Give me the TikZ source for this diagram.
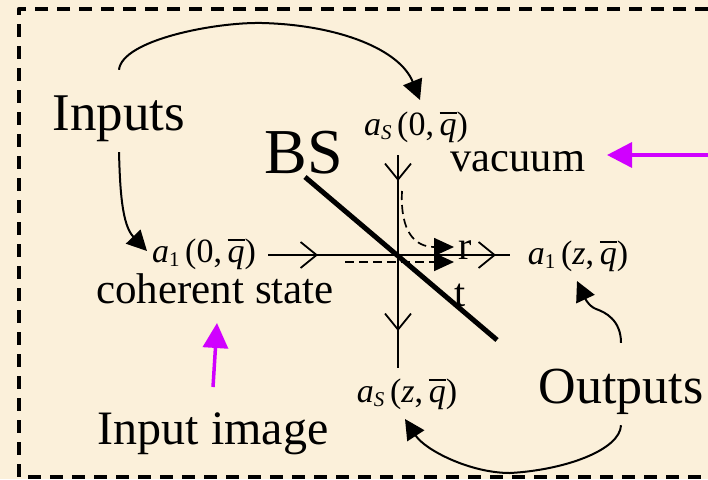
\documentclass[tikz,border=0pt]{standalone}
\usepackage{fontspec}
\setmainfont{Liberation Serif}
\usetikzlibrary{arrows.meta, calc, positioning}
\definecolor{paper}{HTML}{FBF0DA}
\definecolor{imgarrow}{HTML}{D000FF}
\newcommand\lbl[1]{\fontsize{#1}{#1}\selectfont}
\newcommand\barq{\leavevmode\rlap{\raisebox{0.62em}{\rule{0.5em}{0.05em}}}\textit{q}}
\newcommand\amp[2]{\textit{a}\raisebox{-0.3ex}{\lbl{21}#1}\,(#2,\,\barq)}
\tikzset{
  every picture/.style={x=1pt, y=-1pt, line cap=butt, line join=round},
  word/.style={inner sep=0pt, text=black},
  % tall box, so that the callouts leave it above and below the word
  group/.style={word, text height=50pt, text depth=12pt, minimum height=82pt},
  ampl/.style={word, font=\lbl{34}},
  beam/.style={line width=2pt},
  barb/.style={-{Straight Barb[length=16pt, width=26pt, line width=1.8pt]}},
  path/.style={line width=1.7pt, dash pattern=on 9pt off 5pt, -{Triangle[length=20pt, width=18pt]}},
  callout/.style={line width=2pt, -{Triangle[length=20pt, width=20pt]}},
  imgmark/.style={imgarrow, line width=3.5pt, -{Triangle[length=25pt, width=25pt]}},
}
\begin{document}
\begin{tikzpicture}
  \fill[paper] (0,0) rectangle (708,479);
  \useasboundingbox (0,0) rectangle (708,479);
  % dashed frame, open on the right
  \draw[line width=4.5pt, dash pattern=on 13pt off 9pt] (708,9) -- (19,9) -- (19,477) -- (708,477);
  % labels
  \node[group, font=\lbl{53}] (inputs) at (119,111) {Inputs};
  \node[word, font=\lbl{64}] (bs) at (304,153) {BS};
  \node[word, font=\lbl{42.5}] (vacuum) at (518,162) {vacuum};
  \node[word, font=\lbl{43}] (coherent) at (215,289) {coherent state};
  \node[word, font=\lbl{48}] (image) at (213,434) {Input image};
  \node[group, font=\lbl{52}] (outputs) at (621,384) {Outputs};
  \node[word, font=\lbl{40}] (rlabel) at (465,250) {r};
  \node[word, font=\lbl{40}] (tlabel) at (460,295) {t};
  \node[ampl] (asin) at (416,127) {\amp{\textit{S}}{0}};
  \node[ampl] (ain) at (204,254) {\amp{1}{0}};
  \node[ampl] (aout) at (578,256) {\amp{1}{\textit{z}}};
  \node[ampl] (asout) at (407,394) {\amp{\textit{S}}{\textit{z}}};
  % beams
  \coordinate (ntop) at (398,155);
  \coordinate (nbot) at (398,368);
  \coordinate (wleft) at (268,255);
  \coordinate (eright) at (510,255);
  \draw[beam] (ntop) -- (nbot);
  \draw[beam] (wleft) -- (eright);
  \draw[barb] (398,160) -- (398,181);
  \draw[barb] (398,310) -- (398,331);
  \draw[barb] (300,255) -- (318,255);
  \draw[barb] (478,255) -- (496,255);
  % beam splitter
  \coordinate (bsa) at (305,177);
  \coordinate (bsb) at (497,340);
  \draw[line width=5pt] (bsa) -- (bsb);
  % reflected and transmitted paths
  \coordinate (refl) at (402,191);
  \coordinate (reflend) at (454,247);
  \coordinate (trans) at (345,262);
  \coordinate (transend) at (454,262);
  \draw[path] (refl) .. controls (400,232) and (415,247) .. (reflend);
  \draw[path] (trans) -- (transend);
  % callouts
  \draw[callout] (inputs.north) .. controls (122,40) and (215,22) .. (262,23) .. controls (340,25) and (400,50) .. (420,100);
  \draw[callout] (inputs.south) .. controls (120,190) and (122,225) .. (147,251);
  \draw[callout] (outputs.north) .. controls (621,320) and (605,312) .. (596,309) .. controls (588,306) and (584,296) .. (577,281);
  \draw[callout] (outputs.south) .. controls (620,450) and (565,470) .. (510,473) .. controls (470,473) and (425,450) .. (405,419);
  % image arrows
  \coordinate (vacin) at (708,155);
  \coordinate (vacend) at (607,155);
  \coordinate (imgin) at (213,387);
  \coordinate (imgend) at (217,323);
  \draw[imgmark] (vacin) -- (vacend);
  \draw[imgmark] (imgin) -- (imgend);
\end{tikzpicture}
\end{document}
